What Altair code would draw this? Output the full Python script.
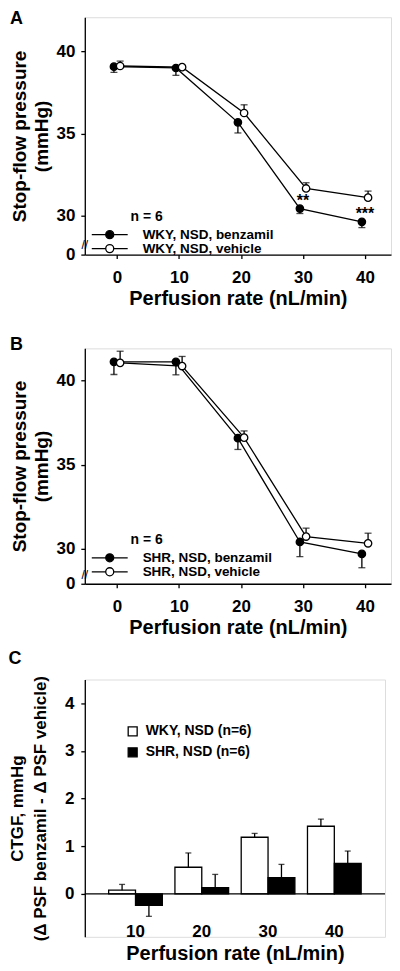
import altair as alt
import pandas as pd

FONT = "Liberation Sans"

# ---------------- data ----------------
rates = [0, 10, 20, 30, 40]

a_names = ["WKY, NSD, benzamil", "WKY, NSD, vehicle"]
a_benz = [39.08, 39.0, 35.68, 30.41, 29.6]
a_benz_err = [0.35, 0.45, 0.65, 0.3, 0.35]
a_veh = [39.12, 39.05, 36.25, 31.64, 31.08]
a_veh_err = [0.3, 0.1, 0.5, 0.35, 0.4]
a_stars = ["", "", "", "**", "***"]

b_names = ["SHR, NSD, benzamil", "SHR, NSD, vehicle"]
b_benz = [41.1, 41.1, 36.57, 30.41, 29.7]
b_benz_err = [0.75, 0.77, 0.67, 0.87, 0.82]
b_veh = [41.04, 40.85, 36.6, 30.73, 30.33]
b_veh_err = [0.69, 0.57, 0.4, 0.5, 0.6]
b_stars = ["", "", "", "", ""]

n_title = "n = 6"

c_rates = ["10", "20", "30", "40"]
c_groups = ["WKY, NSD (n=6)", "SHR, NSD (n=6)"]
c_wky = [0.08, 0.56, 1.19, 1.42]
c_wky_err = [0.12, 0.30, 0.08, 0.15]
c_shr = [-0.24, 0.13, 0.34, 0.64]
c_shr_err = [0.23, 0.28, 0.28, 0.26]

# ---------------- styling ----------------
AX = dict(labelFont=FONT, labelFontSize=17, labelFontWeight="bold", labelColor="black",
          titleFont=FONT, titleFontWeight="bold", titleColor="black",
          domainColor="black", domainWidth=1.3, tickColor="black", tickWidth=1.3, grid=False)

# line + circle legend glyph (unit square scaled by sqrt(size))
LEG_SYMBOL = ("M-3,0L-0.67,0M0.67,0L3,0M-0.67,0A0.67,0.67,0,1,0,0.67,0"
              "A0.67,0.67,0,1,0,-0.67,0Z")

X_MIN, X_MAX = -5.2, 44.2
SHIFT = 0.5
# indent the legend title so it lines up with the legend labels
TITLE_INDENT = "\u200b" + "\u00a0" * 10


def panel_title(letter, offset):
    return alt.TitleParams(letter, anchor="start", frame="bounds", fontSize=18,
                           fontWeight="bold", font=FONT, color="black", offset=offset)


def line_panel(letter, names, benz, benz_err, veh, veh_err, stars, y_dom, break_y,
               height, leg_y, title_offset):
    rows = []
    for i, r in enumerate(rates):
        rows.append({"rate": r, "xpos": r - SHIFT, "series": names[0], "value": benz[i],
                     "bar_end": benz[i] - benz_err[i], "star": stars[i]})
        rows.append({"rate": r, "xpos": r + SHIFT, "series": names[1], "value": veh[i],
                     "bar_end": veh[i] + veh_err[i], "star": ""})
    df = pd.DataFrame(rows)
    brk = pd.DataFrame({"xpos": [X_MIN], "value": [break_y], "mark": ["//"]})

    xs = alt.Scale(domain=[X_MIN, X_MAX], nice=False, zero=False)
    ys = alt.Scale(domain=y_dom, nice=False, zero=False)
    xax = alt.Axis(values=rates, title="Perfusion rate (nL/min)", titleFontSize=20,
                   tickSize=4, labelPadding=11, titlePadding=3, format="d", **AX)
    yax = alt.Axis(values=[y_dom[0], 30, 35, 40], format="d",
                   labelExpr="datum.value < 29 ? '0' : datum.label",
                   title=["Stop-flow pressure", "(mmHg)"], titleFontSize=19,
                   titleLineHeight=23, tickSize=4, labelPadding=6, titlePadding=4, **AX)

    def X(f):
        return alt.X(f, scale=xs, axis=xax)

    def Y(f):
        return alt.Y(f, scale=ys, axis=yax)

    base = alt.Chart(df)
    lines = base.mark_line(color="black", strokeWidth=1.3).encode(
        x=X("xpos:Q"), y=Y("value:Q"), detail="series:N")
    errs = base.mark_rule(color="black", strokeWidth=1.3).encode(
        x=X("xpos:Q"), y=Y("value:Q"), y2="bar_end:Q")
    caps = base.mark_tick(orient="horizontal", color="black", size=7, thickness=1.3).encode(
        x=X("xpos:Q"), y=Y("bar_end:Q"))
    leg = alt.Legend(title=TITLE_INDENT + n_title, orient="none", legendX=7, legendY=leg_y,
                     symbolType=LEG_SYMBOL, symbolSize=144, symbolOffset=11,
                     symbolStrokeColor="black", symbolStrokeWidth=1.3, symbolOpacity=1,
                     labelFont=FONT, labelFontSize=13.5, labelFontWeight="bold",
                     labelColor="black", labelOffset=26, titleFont=FONT,
                     titleFontSize=14, titleFontWeight="bold", titleColor="black",
                     titlePadding=4, rowPadding=0, padding=0)
    pts = base.mark_point(filled=True, size=55, stroke="black", strokeWidth=1.3, opacity=1,
                          shape="circle").encode(
        x=X("xpos:Q"), y=Y("value:Q"),
        fill=alt.Fill("series:N", scale=alt.Scale(domain=names, range=["black", "white"]),
                      legend=leg))
    star = base.transform_filter("datum.star != ''").mark_text(
        dy=-8, font=FONT, fontSize=16, fontWeight="bold", color="black").encode(
        x=X("rate:Q"), y=Y("value:Q"), text="star:N")
    brk_mark = alt.Chart(brk).mark_text(font=FONT, fontSize=12, color="black").encode(
        x=X("xpos:Q"), y=Y("value:Q"), text="mark:N")

    return alt.layer(lines, errs, caps, pts, star, brk_mark).properties(
        width=307, height=height, title=panel_title(letter, title_offset))


panel_a = line_panel("A", a_names, a_benz, a_benz_err, a_veh, a_veh_err, a_stars,
                     [27.6, 42.1], 28.2, 238, 193, -11)
panel_b = line_panel("B", b_names, b_benz, b_benz_err, b_veh, b_veh_err, b_stars,
                     [27.93, 41.9], 28.45, 236, 185, -6)

# ---------------- panel C ----------------
rows = []
for i, r in enumerate(c_rates):
    for g, vals, errs_ in ((c_groups[0], c_wky, c_wky_err), (c_groups[1], c_shr, c_shr_err)):
        v = vals[i]
        e = errs_[i]
        rows.append({"rate": r, "group": g, "value": v,
                     "bar_end": v + e if v >= 0 else v - e})
cdf = pd.DataFrame(rows)
zero_df = pd.DataFrame({"value": [0]})

cxs = alt.Scale(domain=c_rates, paddingInner=0.19, paddingOuter=0.36)
cys = alt.Scale(domain=[-0.9, 4.5], nice=False)
cxax = alt.Axis(labelAngle=0, domain=False, ticks=False, offset=-15, labelPadding=2,
                title="Perfusion rate (nL/min)", titleFontSize=20, titlePadding=4, **AX)
cyax = alt.Axis(values=[0, 1, 2, 3, 4], title=["CTGF, mmHg",
                "(\u0394 PSF benzamil - \u0394 PSF vehicle)"], titleFontSize=17,
                titleLineHeight=23, tickSize=4, labelPadding=7, titlePadding=15, **AX)
xoff = alt.XOffset("group:N", sort=c_groups, scale=alt.Scale(domain=c_groups))
cbase = alt.Chart(cdf)
bars = cbase.mark_bar(stroke="black", strokeWidth=1.3, opacity=1).encode(
    x=alt.X("rate:N", scale=cxs, axis=cxax), xOffset=xoff,
    y=alt.Y("value:Q", scale=cys, axis=cyax),
    fill=alt.Fill("group:N", scale=alt.Scale(domain=c_groups, range=["white", "black"]),
                  legend=alt.Legend(title=None, orient="none", legendX=41, legendY=45,
                                    symbolType="square", symbolSize=81,
                                    symbolStrokeColor="black", symbolStrokeWidth=1.3,
                                    symbolOpacity=1, labelFont=FONT, labelFontSize=14,
                                    labelFontWeight="bold", labelColor="black",
                                    rowPadding=5, labelOffset=6, padding=0)))
cerr = cbase.mark_rule(color="black", strokeWidth=1.3).encode(
    x=alt.X("rate:N", scale=cxs, axis=cxax), xOffset=xoff,
    y=alt.Y("value:Q", scale=cys, axis=cyax), y2="bar_end:Q")
ccap = cbase.mark_tick(orient="horizontal", color="black", size=6, thickness=1.3).encode(
    x=alt.X("rate:N", scale=cxs, axis=cxax), xOffset=xoff,
    y=alt.Y("bar_end:Q", scale=cys, axis=cyax))
czero = alt.Chart(zero_df).mark_rule(color="black", strokeWidth=1.3).encode(
    y=alt.Y("value:Q", scale=cys, axis=cyax))

panel_c = alt.layer(bars, cerr, ccap, czero).properties(
    width=301, height=258, title=panel_title("C", 7))

top = alt.vconcat(panel_a, panel_b, spacing=26).resolve_scale(
    fill="independent").resolve_legend(fill="independent")
chart = alt.vconcat(top, panel_c, spacing=11).resolve_scale(
    fill="independent").resolve_legend(fill="independent").properties(
    padding={"left": 0, "top": 0, "right": 0, "bottom": 0}
).configure_view(stroke=None).configure(font=FONT)

chart.save("out.html", embed_options={"renderer": "svg", "actions": False})
